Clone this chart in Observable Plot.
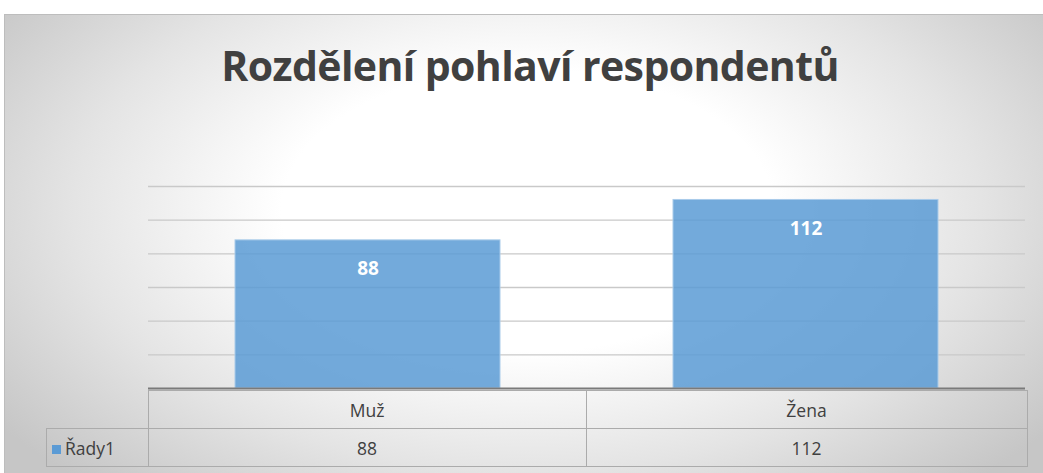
<!DOCTYPE html>
<html>
<head>
<meta charset="utf-8">
<script src="https://cdn.jsdelivr.net/npm/d3@7"></script>
<script src="https://cdn.jsdelivr.net/npm/@observablehq/plot@0.6"></script>
<style>
  html, body { margin: 0; padding: 0; width: 1043px; height: 473px; overflow: hidden; background: #fff; }
  #frame {
    position: absolute; left: 4px; top: 14px; width: 1045px; height: 465px;
    border-top: 1px solid #bdbdbd; border-left: 1px solid #bdbdbd;
    background: radial-gradient(ellipse 62% 80% at 50% 42%, #ffffff 0%, #ffffff 38%, #e4e4e4 70%, #c6c6c6 100%);
  }
  #title {
    position: absolute; left: 0; width: 1060px; top: 37px; text-align: center;
    font-family: "Open Sans", sans-serif; font-weight: 700; font-size: 41px; color: #404040;
    letter-spacing: -0.6px;
  }
  #chart { position: absolute; left: 0; top: 0; }
  #table {
    position: absolute; left: 46px; top: 390px; border-collapse: collapse;
    font-family: "Open Sans", sans-serif; font-size: 17.5px; color: #404040;
  }
  #table td { border: 1px solid #ababab; text-align: center; padding: 0; height: 37px; }
  #table td.blank { border-top: none; border-left: none; }
  #table td.key { text-align: left; padding-left: 5px; }
  .sw { display: inline-block; width: 9px; height: 9px; background: #5b9bd5; margin-right: 4px; vertical-align: 1px; }
</style>
</head>
<body>
<div id="frame"></div>
<div id="chart"></div>
<div id="title"></div>
<table id="table"></table>
<script>
const titleText = "Rozdělení pohlaví respondentů";
const categories = ["Muž", "Žena"];
const values = [88, 112];
const seriesName = "Řady1";
const gridTicks = [20, 40, 60, 80, 100, 120];

const data = categories.map((c, i) => ({category: c, value: values[i]}));

document.getElementById("title").textContent = titleText;

const chart = Plot.plot({
  width: 1043,
  height: 473,
  marginLeft: 148,
  marginRight: 18,
  marginTop: 186,
  marginBottom: 85,
  style: {background: "transparent"},
  x: {domain: categories, paddingInner: 0.396, paddingOuter: 0.198, axis: null},
  y: {domain: [0, 120], axis: null},
  marks: [
    Plot.ruleY(gridTicks, {stroke: "#c9c9c9", strokeWidth: 1.4}),
    Plot.barY(data, {x: "category", y: "value", fill: "#5b9bd5", fillOpacity: 0.85, stroke: "#a9cbea", strokeWidth: 1}),
    Plot.text(data, {x: "category", y: "value", text: d => String(d.value), dy: 29, fill: "white",
      fontWeight: "bold", fontSize: 19, fontFamily: "Open Sans, sans-serif"}),
    Plot.ruleY([0], {stroke: "#7a7a7a", strokeWidth: 2})
  ]
});
document.getElementById("chart").appendChild(chart);

const table = document.getElementById("table");
const colW = [101, 437, 440];
const r1 = table.insertRow();
const c0 = r1.insertCell(); c0.className = "blank"; c0.style.width = colW[0] + "px";
categories.forEach((c, i) => { const td = r1.insertCell(); td.textContent = c; td.style.width = colW[i + 1] + "px"; });
const r2 = table.insertRow();
const k = r2.insertCell(); k.className = "key";
k.innerHTML = '<span class="sw"></span>';
k.appendChild(document.createTextNode(seriesName));
values.forEach(v => { const td = r2.insertCell(); td.textContent = String(v); });
</script>
</body>
</html>
